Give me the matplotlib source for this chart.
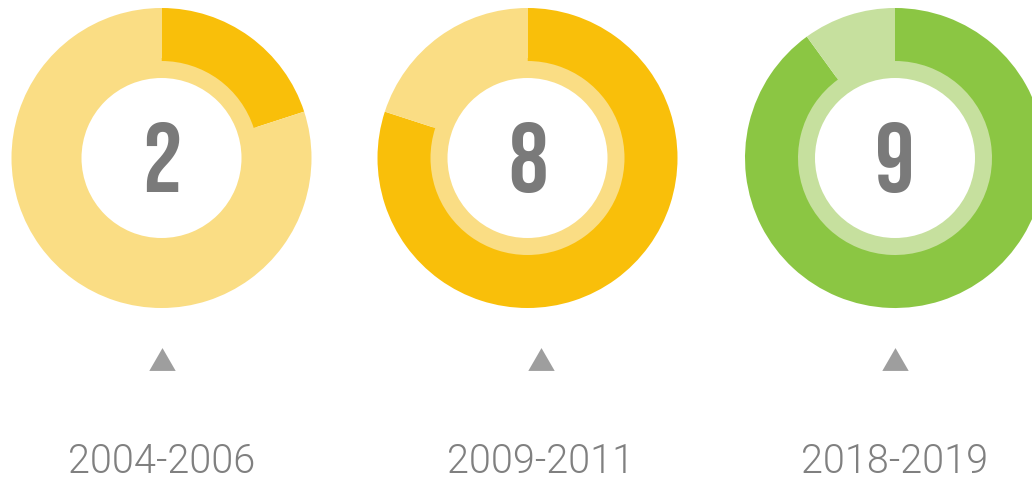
import matplotlib
matplotlib.use("Agg")
import matplotlib.pyplot as plt

# data
periods = ["2004-2006", "2009-2011", "2018-2019"]
scores = [2, 8, 9]
max_score = 10
dark_colors = ["#F9BF0A", "#F9BF0A", "#8BC643"]
light_colors = ["#FADD84", "#FADD84", "#C6E09E"]

W, H = 1032, 481
centers_x = [161.5, 527.5, 895]
label_x = [161.5, 541, 895]
cy = H - 159

fig = plt.figure(figsize=(W / 100, H / 100), dpi=100)
ax = fig.add_axes([0, 0, 1, 1])

for i, (period, score) in enumerate(zip(periods, scores)):
    cx = centers_x[i]
    # thin inner ring (drawn first, slightly overlapping the outer ring to hide seams)
    ax.pie([1], radius=100, center=(cx, cy), colors=[light_colors[i]],
           wedgeprops=dict(width=20, linewidth=0))
    # outer ring: score vs remainder
    ax.pie([score, max_score - score], radius=150, center=(cx, cy),
           startangle=90, counterclock=False,
           colors=[dark_colors[i], light_colors[i]],
           wedgeprops=dict(width=53, linewidth=0))
    ax.text(cx, H - 192, str(score), family="Bebas Neue", fontsize=71,
            color="#7a7a7a", ha="center", va="baseline")
    ax.plot(label_x[i], H - 360, marker=[(-1, -0.866), (1, -0.866), (0, 0.866)],
            markersize=19, color="#9e9e9e", markeredgewidth=0)
    ax.text(label_x[i], H - 473, period, family="Roboto", weight=300, fontsize=28.5,
            color="#808080", ha="center", va="baseline")

ax.set_xlim(0, W)
ax.set_ylim(0, H)
ax.set_aspect("equal")
ax.axis("off")
fig.savefig("out.png", dpi=100)
